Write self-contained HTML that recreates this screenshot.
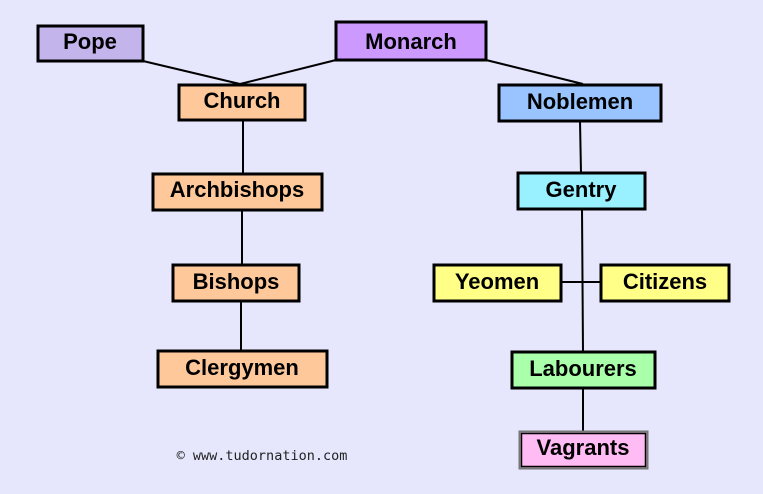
<!DOCTYPE html>
<html><head><style>
html,body{margin:0;padding:0;background:#e6e6fc;}
svg{display:block}
text{font-family:"Liberation Sans",Arial,sans-serif;font-weight:bold;font-size:22px;fill:#000;text-anchor:middle}
</style></head><body>
<svg width="763" height="494" viewBox="0 0 763 494" xmlns="http://www.w3.org/2000/svg">
<rect width="763" height="494" fill="#e6e6fc"/>
<g stroke="#000" stroke-width="2" fill="none">
<line x1="143" y1="61" x2="240" y2="84"/>
<line x1="336" y1="60" x2="240" y2="84"/>
<line x1="486" y1="60" x2="583" y2="84"/>
<line x1="243" y1="120" x2="243" y2="174"/>
<line x1="242" y1="210" x2="242" y2="265"/>
<line x1="241" y1="301" x2="241" y2="351"/>
<line x1="580" y1="121" x2="581" y2="173"/>
<line x1="582" y1="209" x2="583" y2="352"/>
<line x1="561" y1="282" x2="601" y2="282"/>
<line x1="583" y1="388" x2="583" y2="431"/>
</g>
<g stroke="#000" stroke-width="3">
<rect x="38" y="26" width="105" height="35" fill="#c4b4ec"/>
<rect x="336" y="22" width="150" height="38" fill="#cc99ff"/>
<rect x="179" y="85" width="126" height="35" fill="#ffc89a"/>
<rect x="153" y="174" width="169" height="36" fill="#ffc89a"/>
<rect x="173" y="265" width="126" height="36" fill="#ffc89a"/>
<rect x="158" y="351" width="169" height="36" fill="#ffc89a"/>
<rect x="499" y="85" width="162" height="36" fill="#99c4ff"/>
<rect x="518" y="173" width="127" height="36" fill="#99f0ff"/>
<rect x="434" y="265" width="127" height="36" fill="#ffff88"/>
<rect x="601" y="265" width="128" height="36" fill="#ffff88"/>
<rect x="512" y="352" width="143" height="36" fill="#aaffaa"/>
</g>
<rect x="519.5" y="431.5" width="128" height="37" fill="#ffbbf4" stroke="#777" stroke-width="2"/>
<rect x="521.5" y="433.5" width="124" height="33" fill="none" stroke="#000" stroke-width="1.5"/>
<text x="90" y="49">Pope</text>
<text x="411" y="49">Monarch</text>
<text x="242" y="108">Church</text>
<text x="237" y="197">Archbishops</text>
<text x="236" y="289">Bishops</text>
<text x="242" y="375">Clergymen</text>
<text x="580" y="109">Noblemen</text>
<text x="581" y="197">Gentry</text>
<text x="497" y="289">Yeomen</text>
<text x="665" y="289">Citizens</text>
<text x="583" y="376">Labourers</text>
<text x="583" y="455">Vagrants</text>
<text x="262" y="460" style="font-family:'DejaVu Sans Mono','Liberation Mono',monospace;font-weight:normal;font-size:13.5px;fill:#222">© www.tudornation.com</text>
</svg>
</body></html>
